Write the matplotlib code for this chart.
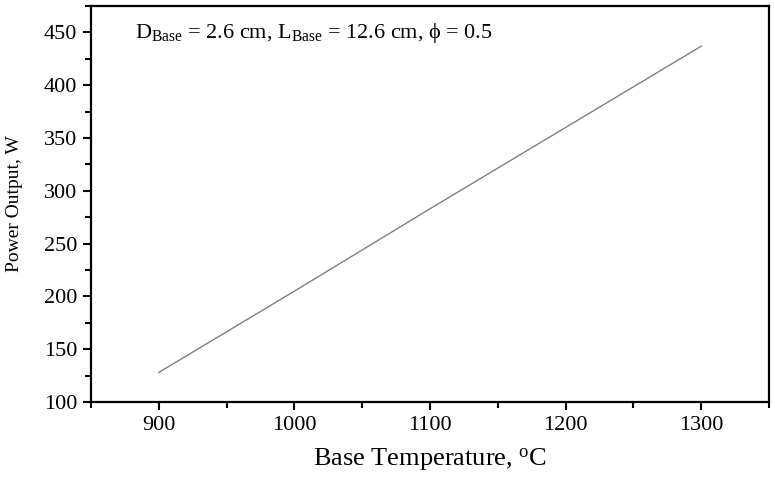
import matplotlib
matplotlib.use('Agg')
import matplotlib.pyplot as plt
from matplotlib.ticker import MultipleLocator

plt.rcParams['font.family'] = ['Liberation Serif', 'DejaVu Serif']
plt.rcParams['mathtext.fontset'] = 'custom'
plt.rcParams['mathtext.rm'] = 'Liberation Serif'
plt.rcParams['mathtext.it'] = 'Liberation Serif:italic'

# data
base_temp = [900, 1000, 1100, 1200, 1300]
power_out = [128, 205, 283, 360, 437]

fig = plt.figure(figsize=(7.75, 4.78), dpi=100)
ax = fig.add_axes([0.1174, 0.159, 0.875, 0.8284])

ax.plot(base_temp, power_out, color='#808080', lw=1.0)

ax.set_xlim(850, 1350)
ax.set_ylim(100, 475)
ax.xaxis.set_major_locator(MultipleLocator(100))
ax.xaxis.set_minor_locator(MultipleLocator(50))
ax.yaxis.set_major_locator(MultipleLocator(50))
ax.yaxis.set_minor_locator(MultipleLocator(25))

for s in ax.spines.values():
    s.set_linewidth(1.6)
ax.tick_params(which='major', direction='out', length=6, width=1.5, labelsize=16, pad=4)
ax.tick_params(which='minor', direction='out', length=4, width=1.5)

ax.set_xlabel(r'Base Temperature, $^{\rm o}$C', fontsize=19, labelpad=8)
ax.set_ylabel('Power Output, W', fontsize=14)
ax.yaxis.set_label_coords(-0.1, 0.5)

ax.text(0.065, 0.932,
        r'D$_{\rm Base}$ = 2.6 cm, L$_{\rm Base}$ = 12.6 cm, ϕ = 0.5',
        transform=ax.transAxes, fontsize=16, va='center', ha='left')

fig.savefig('out.png', dpi=100)
